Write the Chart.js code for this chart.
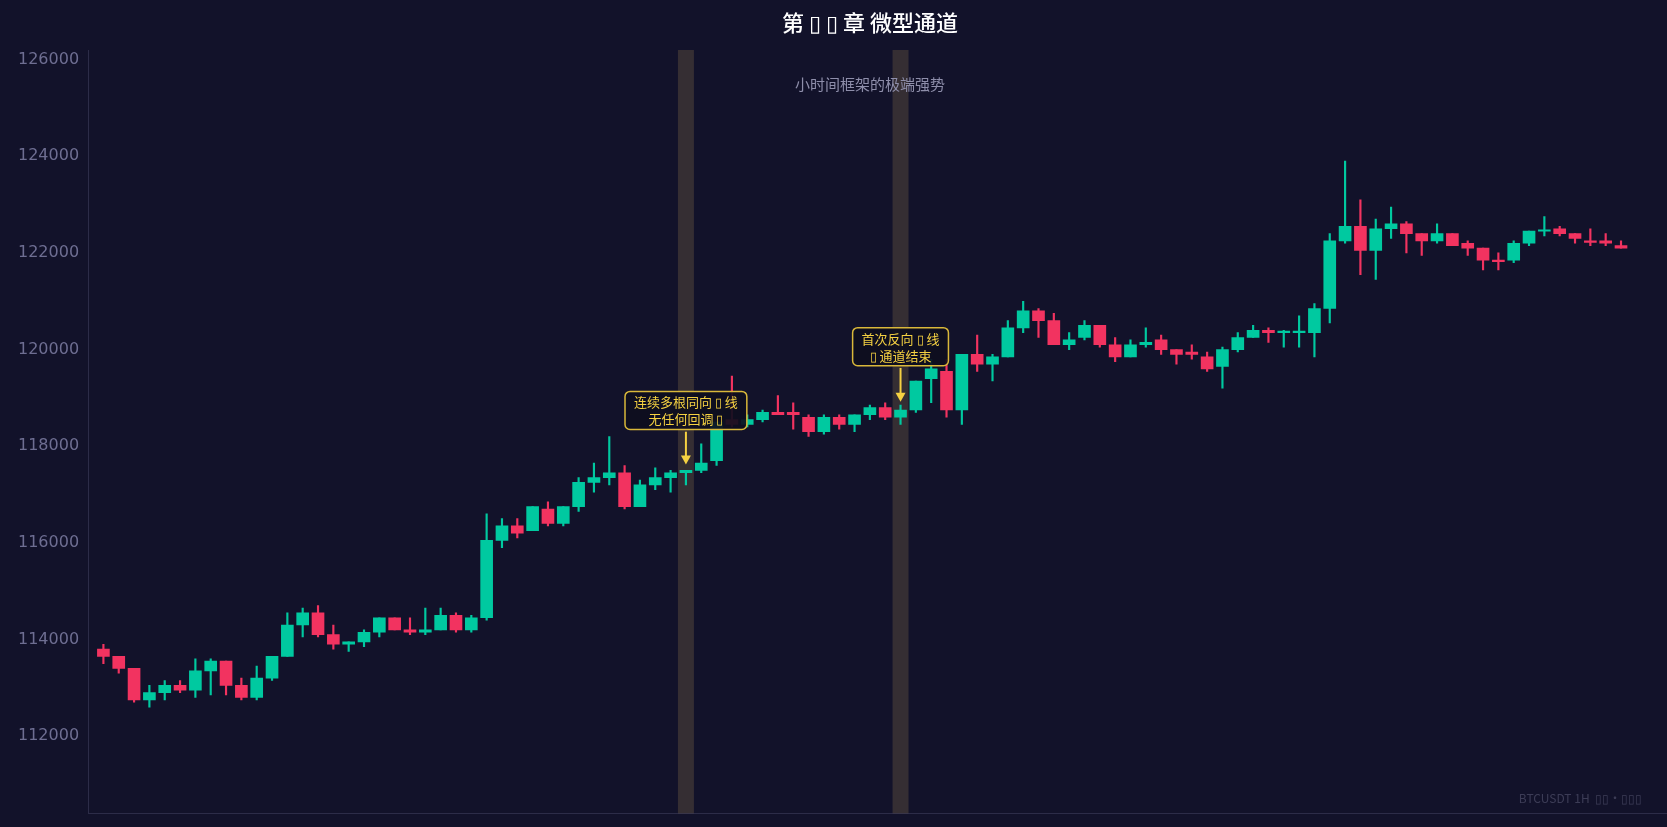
<!DOCTYPE html>
<html>
<head>
<meta charset="utf-8">
<script src="https://cdn.jsdelivr.net/npm/chart.js@4"></script>
<style>
  html, body { margin: 0; padding: 0; background: #12122a; }
  #wrap { width: 1667px; height: 827px; position: relative; }
</style>
</head>
<body>
<div id="wrap"><canvas id="chart"></canvas></div>
<script>
// OHLC, one entry per hourly candle
var opens  = [113800,113650,113400,112750,112900,113050,112950,113350,113550,113050,
              112800,113200,113650,114300,114550,114100,113900,113950,114150,114450,
              114200,114150,114200,114500,114200,114450,116050,116350,116250,116700,
              116400,116750,117250,117350,117450,116750,117200,117350,117450,117500,
              117700,118550,118450,118550,118700,118700,118600,118300,118600,118450,
              118650,118800,118600,118750,119400,119550,118750,119900,119700,119850,
              120450,120800,120600,120100,120250,120500,120100,119850,120100,120200,
              120000,119950,119850,119650,120000,120250,120400,120350,120350,120350,
              120850,122250,122550,122050,122500,122600,122400,122250,122400,122200,
              122100,121850,121850,122200,122450,122500,122400,122250,122250,122150];
var closes = [113650,113400,112750,112900,113050,112950,113350,113550,113050,112800,
              113200,113650,114300,114550,114100,113900,113950,114150,114450,114200,
              114150,114200,114500,114200,114450,116050,116350,116200,116750,116400,
              116750,117250,117350,117450,116750,117200,117350,117450,117500,117650,
              118500,118450,118550,118700,118650,118650,118300,118600,118450,118650,
              118800,118600,118750,119350,119600,118750,119900,119700,119850,120450,
              120800,120600,120100,120200,120500,120100,119850,120100,120150,120000,
              119900,119900,119600,120000,120250,120400,120350,120360,120360,120850,
              122250,122550,122050,122500,122600,122400,122250,122400,122150,122100,
              121850,121840,122200,122450,122460,122400,122300,122240,122200,122100];
var highs  = [113900,113650,113400,113050,113150,113150,113600,113600,113550,113200,
              113450,113650,114550,114650,114700,114300,113950,114200,114450,114450,
              114450,114650,114650,114550,114500,116600,116500,116500,116750,116850,
              116750,117350,117650,118200,117600,117300,117550,117500,117500,118050,
              118500,119450,118650,118750,119050,118900,118650,118650,118650,118650,
              118850,118900,118850,119350,119800,119800,119900,120300,119900,120600,
              121000,120850,120750,120350,120600,120500,120250,120200,120450,120300,
              120000,120100,119950,120050,120350,120500,120450,120400,120700,120950,
              122400,123900,123100,122700,122950,122650,122400,122600,122400,122250,
              122100,122000,122250,122450,122750,122550,122400,122500,122400,122250];
var lows   = [113500,113300,112700,112600,112750,112900,112800,112850,112850,112750,
              112750,113150,113650,114050,114050,113800,113750,113850,114050,114200,
              114100,114100,114200,114150,114150,114400,115900,116100,116250,116350,
              116350,116650,117050,117200,116700,116750,117100,117050,117200,117450,
              117600,118400,118400,118500,118650,118350,118200,118250,118350,118300,
              118550,118550,118450,118700,118900,118600,118450,119550,119350,119850,
              120350,120250,120100,120000,120200,120050,119750,119850,120050,119900,
              119700,119800,119550,119200,119950,120250,120150,120050,120050,119850,
              120550,122200,121550,121450,122300,122000,121950,122200,122150,121950,
              121650,121650,121800,122150,122350,122350,122200,122150,122150,122100];
var yTicks = [112000,114000,116000,118000,120000,122000,124000,126000];
var bandIdx = [38, 52];

var GREEN = '#00c9a0', RED = '#f23360';
// one empty slot before the first candle and a few after the last, as in the picture
var labels = [], bodies = [null], wicks = [null], colors = ['#000'];
for (var k = -1; k < opens.length + 3; k++) { labels.push(k); }
for (var i = 0; i < opens.length; i++) {
  var o = opens[i], c = closes[i];
  if (Math.abs(o - c) < 30) { c = o + (c >= o ? 30 : -30); }
  bodies.push([o, c]);
  wicks.push([lows[i], highs[i]]);
  colors.push(closes[i] >= opens[i] ? GREEN : RED);
}

var notes = [
  { idx: 38, lines: ['连续多根同向 ▯ 线', '无任何回调 ▯'], boxY: 118740, from: 118300, to: 117620 },
  { idx: 52, lines: ['首次反向 ▯ 线', '▯ 通道结束'], boxY: 120060, from: 119620, to: 118920 }
];

var decor = {
  id: 'decor',
  beforeDatasetsDraw: function (chart) {
    var ctx = chart.ctx, x = chart.scales.x, a = chart.chartArea;
    ctx.save();
    ctx.fillStyle = 'rgba(255,205,110,0.15)';
    bandIdx.forEach(function (b) {
      var px = x.getPixelForValue(b + 1);
      ctx.fillRect(px - 8, a.top, 16, a.bottom - a.top);
    });
    ctx.restore();
  },
  afterDraw: function (chart) {
    var ctx = chart.ctx, x = chart.scales.x, y = chart.scales.y, a = chart.chartArea;
    ctx.save();
    ctx.textAlign = 'center';
    ctx.textBaseline = 'middle';
    ctx.fillStyle = '#ffffff';
    ctx.font = '500 22px "Noto Sans CJK SC", "Noto Sans"';
    ctx.fillText('第 ▯ ▯ 章 微型通道', 870, 23);
    ctx.fillStyle = '#8e8eaa';
    ctx.font = '15px "Noto Sans CJK SC", "Noto Sans"';
    ctx.fillText('小时间框架的极端强势', 870, 84);

    notes.forEach(function (n) {
      var cx = x.getPixelForValue(n.idx + 1);
      var cy = y.getPixelForValue(n.boxY);
      ctx.font = '13px "Noto Sans CJK SC", "Noto Sans"';
      var w = Math.max.apply(null, n.lines.map(function (t) { return ctx.measureText(t).width; })) + 18;
      var h = 38;
      ctx.beginPath();
      ctx.roundRect(cx - w / 2, cy - h / 2, w, h, 5);
      ctx.fillStyle = 'rgba(14,14,30,0.92)';
      ctx.fill();
      ctx.lineWidth = 1.5;
      ctx.strokeStyle = '#d9b83a';
      ctx.stroke();
      ctx.fillStyle = '#f5d142';
      ctx.fillText(n.lines[0], cx, cy - 8);
      ctx.fillText(n.lines[1], cx, cy + 9);
      var y1 = y.getPixelForValue(n.from), y2 = y.getPixelForValue(n.to);
      ctx.strokeStyle = '#f5d142';
      ctx.lineWidth = 2;
      ctx.beginPath();
      ctx.moveTo(cx, y1);
      ctx.lineTo(cx, y2 - 6);
      ctx.stroke();
      ctx.beginPath();
      ctx.moveTo(cx - 5, y2 - 9);
      ctx.lineTo(cx + 5, y2 - 9);
      ctx.lineTo(cx, y2);
      ctx.closePath();
      ctx.fillStyle = '#f5d142';
      ctx.fill();
    });

    ctx.textAlign = 'right';
    ctx.fillStyle = 'rgba(140,140,170,0.35)';
    ctx.font = '12px "Noto Sans CJK SC", "Noto Sans"';
    ctx.fillText('BTCUSDT 1H  ▯▯·▯▯▯', a.right - 25, a.bottom - 15);
    ctx.restore();
  }
};

new Chart(document.getElementById('chart'), {
  type: 'bar',
  data: {
    labels: labels,
    datasets: [
      { data: bodies, backgroundColor: colors, borderWidth: 0, barThickness: 12, grouped: false, order: 1 },
      { data: wicks, backgroundColor: colors, borderWidth: 0, barThickness: 1.5, grouped: false, order: 2 }
    ]
  },
  options: {
    responsive: true,
    maintainAspectRatio: false,
    animation: false,
    layout: { padding: { top: 50, right: 0, bottom: 11, left: 14 } },
    plugins: { legend: { display: false }, tooltip: { enabled: false } },
    scales: {
      x: {
        offset: false,
        grid: { display: false, drawTicks: false },
        border: { color: '#2c2c48' },
        ticks: { display: false }
      },
      y: {
        min: 110400,
        max: 126200,
        afterBuildTicks: function (s) { s.ticks = yTicks.map(function (v) { return { value: v }; }); },
        grid: { display: false, drawTicks: true, tickLength: 5, color: '#4a4a66' },
        border: { color: '#2c2c48' },
        ticks: {
          color: '#6e6e92', font: { size: 16, family: '"DejaVu Sans"' }, padding: 4,
          callback: function (v) { return String(v); }
        }
      }
    }
  },
  plugins: [decor]
});
</script>
</body>
</html>
